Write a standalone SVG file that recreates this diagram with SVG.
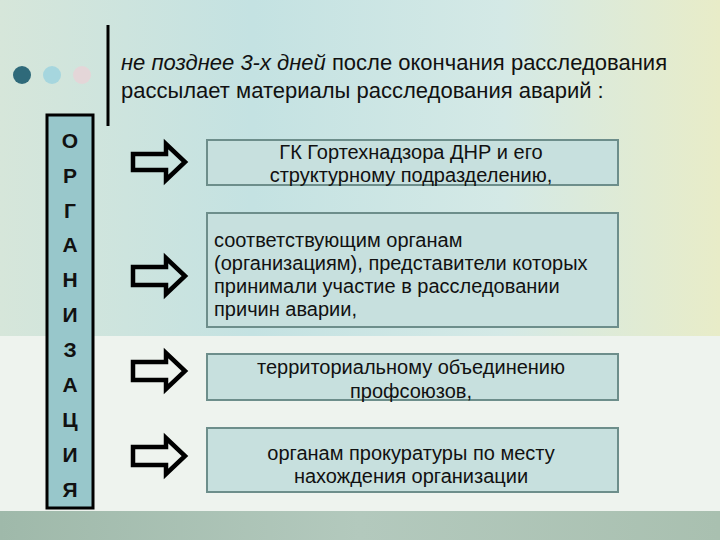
<svg xmlns="http://www.w3.org/2000/svg" width="720" height="540" viewBox="0 0 720 540">
<defs>
<linearGradient id="bgTop" x1="0" y1="0" x2="1" y2="0">
<stop offset="0" stop-color="#d6e6da"/>
<stop offset="0.35" stop-color="#c4e2e2"/>
<stop offset="0.7" stop-color="#d4e9e6"/>
<stop offset="1" stop-color="#e8ecc8"/>
</linearGradient>
<linearGradient id="bgBot" x1="0" y1="0" x2="1" y2="0">
<stop offset="0" stop-color="#9fb9aa"/>
<stop offset="0.5" stop-color="#b3c9bd"/>
<stop offset="1" stop-color="#a9c0b0"/>
</linearGradient>
<style>
.box{fill:#c7e0de;stroke:#6d8e8b;stroke-width:2}
.txt{font-family:"Liberation Sans",Arial,sans-serif;font-size:20px;fill:#111}
.mid{text-anchor:middle}
.let{font-family:"Liberation Sans",Arial,sans-serif;font-size:21px;font-weight:bold;text-anchor:middle;fill:#111}
.arr{fill:none;stroke:#000;stroke-width:4.5;stroke-linejoin:miter}
.title{font-family:"Liberation Sans",Arial,sans-serif;font-size:22px;fill:#111}
</style>
</defs>
<rect x="0" y="0" width="720" height="540" fill="#eef3ee"/>
<rect x="0" y="0" width="720" height="336" fill="url(#bgTop)"/>
<rect x="0" y="511" width="720" height="29" fill="url(#bgBot)"/>
<g id="decor">
<circle cx="22" cy="75" r="9" fill="#2f6a7a"/>
<circle cx="52" cy="75" r="9" fill="#a6d6de"/>
<circle cx="82" cy="75" r="9" fill="#e4d6d8"/>
<line x1="108" y1="25" x2="108" y2="126" stroke="#000" stroke-width="3"/>
</g>
<g id="title">
<text class="title" x="121" y="70"><tspan font-style="italic">не позднее 3-х дней</tspan> после окончания расследования</text>
<text class="title" x="121" y="98">рассылает материалы расследования аварий :</text>
</g>
<g id="org">
<rect x="47" y="115" width="46" height="393" fill="#98c7cb" stroke="#000" stroke-width="3"/>
<text class="let" x="70" y="148">О</text>
<text class="let" x="70" y="183">Р</text>
<text class="let" x="70" y="218">Г</text>
<text class="let" x="70" y="252">А</text>
<text class="let" x="70" y="287">Н</text>
<text class="let" x="70" y="322">И</text>
<text class="let" x="70" y="357">З</text>
<text class="let" x="70" y="392">А</text>
<text class="let" x="70" y="427">Ц</text>
<text class="let" x="70" y="462">И</text>
<text class="let" x="70" y="497">Я</text>
</g>
<g id="connectors">
<path class="arr" d="M133,154 H166 V144 L185,162 L166,180 V170 H133 Z"/>
<path class="arr" d="M133,267 H166 V258 L185,276 L166,294 V285 H133 Z"/>
<path class="arr" d="M133,362 H166 V353 L185,371 L166,389 V380 H133 Z"/>
<path class="arr" d="M133,447 H166 V438 L185,456 L166,474 V465 H133 Z"/>
</g>
<g id="box1">
<rect class="box" x="207" y="140" width="411" height="45"/>
<text class="txt mid" x="411" y="159">ГК Гортехнадзора ДНР и его</text>
<text class="txt mid" x="411" y="182">структурному подразделению,</text>
</g>
<g id="box2">
<rect class="box" x="207" y="213" width="411" height="114"/>
<text class="txt" x="214" y="247">соответствующим органам</text>
<text class="txt" x="214" y="270">(организациям), представители которых</text>
<text class="txt" x="214" y="293">принимали участие в расследовании</text>
<text class="txt" x="214" y="316">причин аварии,</text>
</g>
<g id="box3">
<rect class="box" x="207" y="354" width="411" height="46"/>
<text class="txt mid" x="411" y="374">территориальному объединению</text>
<text class="txt mid" x="411" y="398">профсоюзов,</text>
</g>
<g id="box4">
<rect class="box" x="207" y="428" width="411" height="64"/>
<text class="txt mid" x="411" y="460">органам прокуратуры по месту</text>
<text class="txt mid" x="411" y="483">нахождения организации</text>
</g>
</svg>
